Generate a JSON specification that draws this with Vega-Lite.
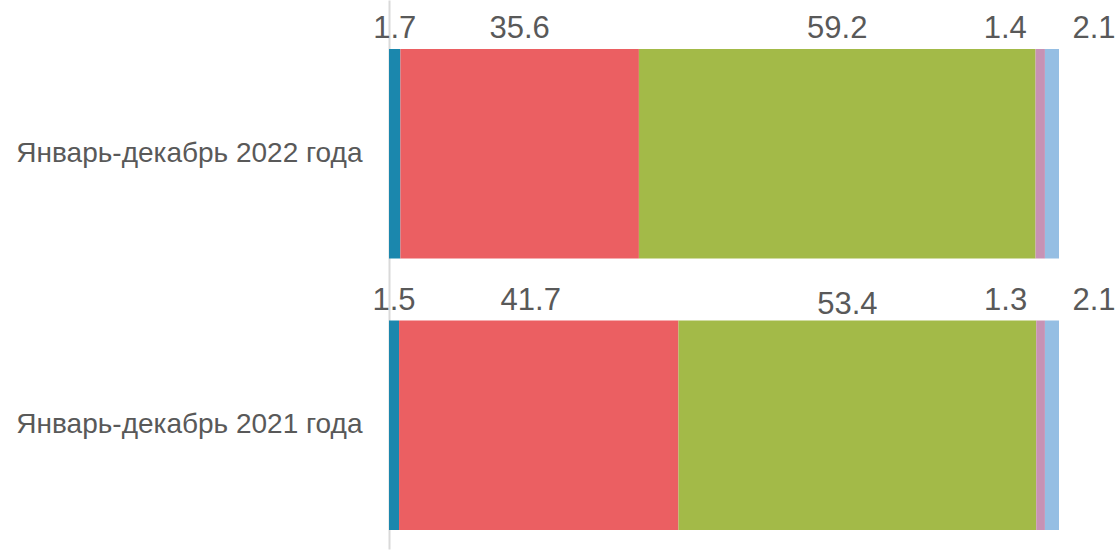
{
  "$schema": "https://vega.github.io/schema/vega-lite/v6.json",
  "width": 670,
  "height": 549,
  "autosize": {"type": "none"},
  "padding": {"left": 389, "top": 0, "right": 59, "bottom": 6},
  "config": {
    "view": {"stroke": null},
    "font": "Liberation Sans",
    "text": {"font": "Liberation Sans"}
  },
  "data": {
    "values": [
      {"period": "Январь-декабрь 2022 года", "cat": "Категория 1", "order": 1, "pct": 1.7},
      {"period": "Январь-декабрь 2022 года", "cat": "Категория 2", "order": 2, "pct": 35.6},
      {"period": "Январь-декабрь 2022 года", "cat": "Категория 3", "order": 3, "pct": 59.2},
      {"period": "Январь-декабрь 2022 года", "cat": "Категория 4", "order": 4, "pct": 1.4},
      {"period": "Январь-декабрь 2022 года", "cat": "Категория 5", "order": 5, "pct": 2.1},
      {"period": "Январь-декабрь 2021 года", "cat": "Категория 1", "order": 1, "pct": 1.5},
      {"period": "Январь-декабрь 2021 года", "cat": "Категория 2", "order": 2, "pct": 41.7},
      {"period": "Январь-декабрь 2021 года", "cat": "Категория 3", "order": 3, "pct": 53.4},
      {"period": "Январь-декабрь 2021 года", "cat": "Категория 4", "order": 4, "pct": 1.3},
      {"period": "Январь-декабрь 2021 года", "cat": "Категория 5", "order": 5, "pct": 2.1}
    ]
  },
  "encoding": {
    "y": {
      "field": "period",
      "type": "nominal",
      "sort": ["Январь-декабрь 2022 года", "Январь-декабрь 2021 года"],
      "scale": {"paddingInner": 0.229, "paddingOuter": 0.1255, "align": 0.72},
      "axis": {
        "title": null,
        "ticks": false,
        "domainColor": "#D9D9D9",
        "domainWidth": 2,
        "labelFontSize": 28,
        "labelColor": "#595959",
        "labelPadding": 27,
        "labelFont": "Liberation Sans",
        "labelLimit": 500
      }
    }
  },
  "layer": [
    {
      "mark": {"type": "bar"},
      "encoding": {
        "x": {"field": "pct", "type": "quantitative", "stack": "zero", "scale": {"domain": [0, 100]}, "axis": null},
        "order": {"field": "order", "type": "quantitative"},
        "color": {
          "field": "cat",
          "type": "nominal",
          "scale": {
            "domain": ["Категория 1", "Категория 2", "Категория 3", "Категория 4", "Категория 5"],
            "range": ["#1B87AD", "#EB5F62", "#A3BA48", "#C792B5", "#95BEE3"]
          },
          "legend": null
        }
      }
    },
    {
      "transform": [
        {"stack": "pct", "groupby": ["period"], "sort": [{"field": "order"}], "as": ["x0", "x1"]},
        {"fold": ["x0", "x1"], "as": ["edge", "pos"]}
      ],
      "encoding": {
        "x": {"aggregate": "mean", "field": "pos", "type": "quantitative", "scale": {"domain": [0, 100]}, "axis": null},
        "text": {"field": "pct", "type": "quantitative", "format": ".1f"},
        "detail": {"field": "cat", "type": "nominal"}
      },
      "layer": [
        {
          "transform": [{"filter": "datum.order <= 3 && !(datum.period == 'Январь-декабрь 2021 года' && datum.order >= 2)"}],
          "mark": {"type": "text", "fontSize": 31, "color": "#595959", "baseline": "alphabetic", "dy": -115.5}
        },
        {
          "transform": [{"filter": "datum.order == 2 && datum.period == 'Январь-декабрь 2021 года'"}],
          "mark": {"type": "text", "fontSize": 31, "color": "#595959", "baseline": "alphabetic", "dy": -115.5, "dx": -8}
        },
        {
          "transform": [{"filter": "datum.order == 3 && datum.period == 'Январь-декабрь 2021 года'"}],
          "mark": {"type": "text", "fontSize": 31, "color": "#595959", "baseline": "alphabetic", "dy": -111.5, "dx": -10}
        },
        {
          "transform": [{"filter": "datum.order == 4"}],
          "mark": {"type": "text", "fontSize": 31, "color": "#595959", "baseline": "alphabetic", "dy": -115.5, "dx": -35}
        },
        {
          "transform": [{"filter": "datum.order == 5"}],
          "mark": {"type": "text", "fontSize": 31, "color": "#595959", "baseline": "alphabetic", "dy": -115.5, "dx": 42}
        }
      ]
    }
  ]
}
